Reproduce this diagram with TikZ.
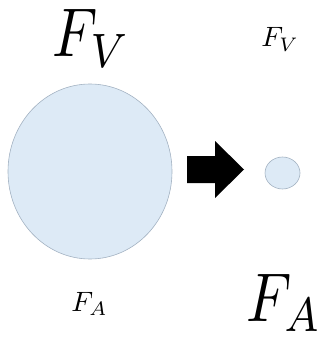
\documentclass[tikz,border=0pt]{standalone}
\usepackage{tikz}
\usetikzlibrary{shapes.geometric}
\definecolor{dropfill}{HTML}{DDEAF6}
\definecolor{dropline}{HTML}{A3B2C2}

\begin{document}
\begin{tikzpicture}[
    x=1pt, y=-1pt,
    drop/.style={
        ellipse,
        draw=dropline,
        fill=dropfill,
        line width=0.6pt,
        inner sep=0pt
    },
    bigforce/.style={anchor=base, inner sep=0pt, xscale=5.8, yscale=6.9},
    smallforce/.style={anchor=base, inner sep=0pt, scale=2.8}
]
\useasboundingbox (0,0) rectangle (321,342);

% droplets
\node[drop, minimum width=164pt, minimum height=175pt] (big) at (90,171.5) {};
\node[drop, minimum width=35pt, minimum height=32pt] (small) at (282.5,173) {};

% forces
\node[bigforce] (fvbig) at (91.5,57) {$F_V$};
\node[bigforce] (fabig) at (284.5,321) {$F_A$};
\node[smallforce] (fvsmall) at (280,47) {$F_V$};
\node[smallforce] (fasmall) at (89.5,311) {$F_A$};

% block arrow
\coordinate (tip) at (244,169.5);
\fill[black] (187,156) -- (215,156) -- (215,141) -- (tip)
    -- (215,198) -- (215,183) -- (187,183) -- cycle;

\end{tikzpicture}
\end{document}
